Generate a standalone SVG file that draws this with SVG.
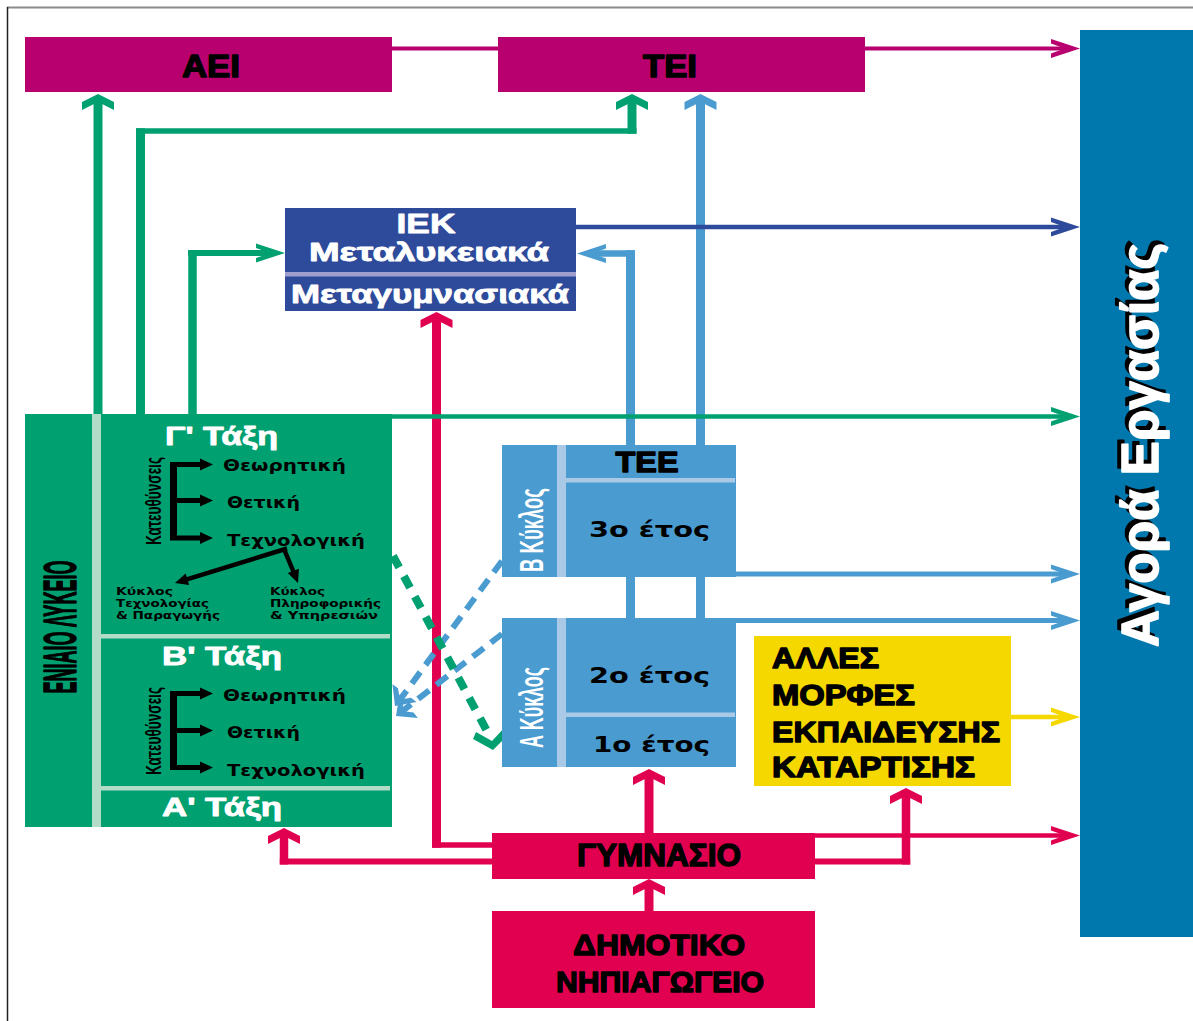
<svg xmlns="http://www.w3.org/2000/svg" xmlns:xlink="http://www.w3.org/1999/xlink" width="1193" height="1021" viewBox="0 0 1193 1021">
<style>
.hv{font-family:"Liberation Sans",Arial,sans-serif;font-weight:bold;}
.cd{font-family:"Liberation Sans Narrow","Liberation Sans",Arial,sans-serif;font-weight:bold;}
.wd{font-family:"DejaVu Sans",Verdana,sans-serif;font-weight:bold;}
.blk{fill:#000;stroke:#000;stroke-width:1.4;stroke-linejoin:round;}
.wht{fill:#fff;}
.whs{fill:#fff;stroke:#fff;stroke-width:0.8;stroke-linejoin:round;}
.mag{stroke:#B8006E;fill:none;}
.dbl{stroke:#2E4A9A;fill:none;}
.grn{stroke:#00A070;fill:none;}
.lbl{stroke:#4A9BD0;fill:none;}
.yel{stroke:#F5D800;fill:none;}
.pnk{stroke:#E0004F;fill:none;}
</style>
<defs>
<path id="hu" d="M0,0 L16,8 L16,16 L0,8 L-16,16 L-16,8 Z"/>
<path id="hr" d="M0,0 L-29,-9.5 L-29,-5 L-15,0 L-29,5 L-29,9.5 Z"/>
<path id="hl" d="M0,0 L29,-9.5 L29,-5 L15,0 L29,5 L29,9.5 Z"/>
<path id="hc" d="M0,0 L-16,-15 L-16,-8 L-8,0 L-16,8 L-16,15 Z"/>
<path id="ht" d="M0,0 L-13,-6 L-13,6 Z"/>
</defs>
<rect x="0" y="0" width="1193" height="1021" fill="#fff"/>
<line x1="7" y1="7.5" x2="1193" y2="7.5" stroke="#8a8a8a" stroke-width="2"/>
<line x1="7.5" y1="7" x2="7.5" y2="1021" stroke="#222" stroke-width="1.5"/>

<g id="connectors">
  <!-- magenta -->
  <line class="mag" x1="392" y1="48.5" x2="498" y2="48.5" stroke-width="4"/>
  <line class="mag" x1="865" y1="48.5" x2="1066" y2="48.5" stroke-width="4"/>
  <use xlink:href="#hr" x="1080" y="48.5" fill="#B8006E"/>
  <!-- green solid -->
  <line class="grn" x1="98" y1="414" x2="98" y2="101" stroke-width="9"/>
  <use xlink:href="#hu" x="98" y="94" fill="#00A070"/>
  <line class="grn" x1="140.5" y1="414" x2="140.5" y2="128.2" stroke-width="9"/>
  <line class="grn" x1="136" y1="131" x2="636.5" y2="131" stroke-width="5.5"/>
  <line class="grn" x1="632" y1="133.7" x2="632" y2="101" stroke-width="9"/>
  <use xlink:href="#hu" x="632" y="94" fill="#00A070"/>
  <line class="grn" x1="192.5" y1="414" x2="192.5" y2="250" stroke-width="8.5"/>
  <line class="grn" x1="188.2" y1="253" x2="272" y2="253" stroke-width="6"/>
  <use xlink:href="#hr" x="285" y="253" fill="#00A070"/>
  <!-- light blue -->
  <line class="lbl" x1="700.5" y1="445" x2="700.5" y2="101" stroke-width="9"/>
  <use xlink:href="#hu" x="700.5" y="94" fill="#4A9BD0"/>
  <line class="lbl" x1="630.5" y1="445" x2="630.5" y2="250.2" stroke-width="9"/>
  <line class="lbl" x1="635" y1="253.5" x2="591" y2="253.5" stroke-width="6.5"/>
  <use xlink:href="#hl" x="577" y="253.5" fill="#4A9BD0"/>
  <line class="lbl" x1="630.5" y1="577" x2="630.5" y2="618" stroke-width="9"/>
  <line class="lbl" x1="700.5" y1="577" x2="700.5" y2="618" stroke-width="9"/>
  <line class="lbl" x1="736" y1="574" x2="1066" y2="574" stroke-width="5"/>
  <use xlink:href="#hr" x="1080" y="574" fill="#4A9BD0"/>
  <line class="lbl" x1="736" y1="620.5" x2="1066" y2="620.5" stroke-width="5"/>
  <use xlink:href="#hr" x="1080" y="620.5" fill="#4A9BD0"/>
  <!-- dark blue -->
  <line class="dbl" x1="576" y1="227" x2="1066" y2="227" stroke-width="4.5"/>
  <use xlink:href="#hr" x="1080" y="227" fill="#2E4A9A"/>
  <!-- pink -->
  <line class="pnk" x1="649" y1="911" x2="649" y2="886" stroke-width="9"/>
  <use xlink:href="#hu" x="649" y="879" fill="#E0004F"/>
  <line class="pnk" x1="649" y1="833" x2="649" y2="776" stroke-width="9"/>
  <use xlink:href="#hu" x="649" y="769" fill="#E0004F"/>
  <line class="pnk" x1="436.5" y1="847.7" x2="436.5" y2="319" stroke-width="9"/>
  <use xlink:href="#hu" x="436.5" y="312" fill="#E0004F"/>
  <line class="pnk" x1="492" y1="845" x2="432" y2="845" stroke-width="5.5"/>
  <line class="pnk" x1="284" y1="864.5" x2="284" y2="835" stroke-width="8.5"/>
  <use xlink:href="#hu" x="284" y="828" fill="#E0004F"/>
  <line class="pnk" x1="492" y1="861.5" x2="279.8" y2="861.5" stroke-width="6"/>
  <line class="pnk" x1="906" y1="864.5" x2="906" y2="795" stroke-width="8.5"/>
  <use xlink:href="#hu" x="906" y="788" fill="#E0004F"/>
  <line class="pnk" x1="815" y1="861.5" x2="910.2" y2="861.5" stroke-width="6"/>
  <line class="pnk" x1="815" y1="835.5" x2="1066" y2="835.5" stroke-width="4.5"/>
  <use xlink:href="#hr" x="1080" y="835.5" fill="#E0004F"/>
  <!-- yellow -->
  <line class="yel" x1="1011" y1="717" x2="1066" y2="717" stroke-width="4.5"/>
  <use xlink:href="#hr" x="1080" y="717" fill="#F5D800"/>
  <!-- green horizontal to market -->
  <line class="grn" x1="392" y1="416.5" x2="1066" y2="416.5" stroke-width="4.5"/>
  <use xlink:href="#hr" x="1080" y="416.5" fill="#00A070"/>
  <!-- dashed -->
  <line class="lbl" x1="502" y1="561" x2="400" y2="699.6" stroke-width="6" stroke-dasharray="14 9"/>
  <use xlink:href="#hc" transform="translate(395,706) rotate(126.4)" fill="#4A9BD0"/>
  <line class="lbl" x1="502" y1="634" x2="402.3" y2="711.1" stroke-width="6" stroke-dasharray="14 9"/>
  <use xlink:href="#hc" transform="translate(396,716) rotate(142.3)" fill="#4A9BD0"/>
  <line class="grn" x1="393" y1="556" x2="487" y2="731" stroke-width="8" stroke-dasharray="13 10"/>
  <polygon points="493,750 473,739 476,732 492,741 506,726 511,732" fill="#00A070"/>
</g>

<g id="aei">
  <rect x="25" y="37" width="367" height="55" fill="#B8006E"/>
  <text class="hv blk" x="211" y="77" font-size="31" text-anchor="middle" textLength="58" lengthAdjust="spacingAndGlyphs">ΑΕΙ</text>
</g>

<g id="tei">
  <rect x="498" y="37" width="367" height="55" fill="#B8006E"/>
  <text class="hv blk" x="670" y="77" font-size="31" text-anchor="middle" textLength="54" lengthAdjust="spacingAndGlyphs">ΤΕΙ</text>
</g>

<g id="iek">
  <rect x="285" y="208" width="291" height="103" fill="#2E4A9A"/>
  <rect x="285" y="272" width="291" height="4.5" fill="#9E9ECF"/>
  <text class="hv whs" x="426" y="233" font-size="27" text-anchor="middle" textLength="59" lengthAdjust="spacingAndGlyphs">ΙΕΚ</text>
  <text class="hv whs" x="429" y="261" font-size="25" text-anchor="middle" textLength="240" lengthAdjust="spacingAndGlyphs">Μεταλυκειακά</text>
  <text class="hv whs" x="430" y="303" font-size="25" text-anchor="middle" textLength="278" lengthAdjust="spacingAndGlyphs">Μεταγυμνασιακά</text>
</g>

<g id="lykeio">
  <rect x="25" y="414" width="367" height="413" fill="#00A070"/>
  <rect x="92" y="414" width="9" height="413" fill="#B3DCC8"/>
  <rect x="101" y="634" width="289" height="4.5" fill="#B3DCC8"/>
  <rect x="101" y="786" width="289" height="4.5" fill="#B3DCC8"/>
  <text class="cd blk" transform="translate(76,627) rotate(-90)" font-size="46" text-anchor="middle" textLength="133" lengthAdjust="spacingAndGlyphs">ΕΝΙΑΙΟ ΛΥΚΕΙΟ</text>
  <text class="cd whs" x="165" y="445" font-size="25" textLength="113" lengthAdjust="spacingAndGlyphs">Γ' Τάξη</text>
  <text class="cd whs" x="162" y="665" font-size="25" textLength="120" lengthAdjust="spacingAndGlyphs">Β' Τάξη</text>
  <text class="cd whs" x="162" y="816" font-size="25" textLength="120" lengthAdjust="spacingAndGlyphs">Α' Τάξη</text>
  <!-- upper bracket -->
  <text class="cd" fill="#000" font-weight="normal" transform="translate(161,501) rotate(-90)" font-size="22" text-anchor="middle" textLength="88" lengthAdjust="spacingAndGlyphs">Κατευθύνσεις</text>
  <g fill="#000">
    <rect x="170" y="462" width="7" height="78.5"/>
    <rect x="177" y="462" width="24" height="5"/>
    <rect x="177" y="498" width="24" height="5"/>
    <rect x="177" y="535.5" width="24" height="5"/>
    <use xlink:href="#ht" x="213" y="464.5"/>
    <use xlink:href="#ht" x="213" y="500.5"/>
    <use xlink:href="#ht" x="213" y="538"/>
  </g>
  <text class="wd" fill="#000" x="223" y="471" font-size="15" textLength="123" lengthAdjust="spacingAndGlyphs">Θεωρητική</text>
  <text class="wd" fill="#000" x="227" y="508" font-size="15" textLength="73" lengthAdjust="spacingAndGlyphs">Θετική</text>
  <text class="wd" fill="#000" x="227" y="546" font-size="15" textLength="138" lengthAdjust="spacingAndGlyphs">Τεχνολογική</text>
  <g stroke="#000" stroke-width="4.5" fill="none">
    <line x1="287" y1="548.5" x2="186" y2="579.6"/>
    <line x1="284" y1="549" x2="294" y2="573"/>
  </g>
  <use xlink:href="#ht" transform="translate(175,583) rotate(162.8)" fill="#000"/>
  <use xlink:href="#ht" transform="translate(298,583) rotate(69)" fill="#000"/>
  <g class="wd" fill="#000" font-size="11">
    <text x="116" y="595" textLength="57" lengthAdjust="spacingAndGlyphs">Κύκλος</text>
    <text x="116" y="607" textLength="93" lengthAdjust="spacingAndGlyphs">Τεχνολογίας</text>
    <text x="116" y="619" textLength="104" lengthAdjust="spacingAndGlyphs">&amp; Παραγωγής</text>
    <text x="270" y="595" textLength="55" lengthAdjust="spacingAndGlyphs">Κύκλος</text>
    <text x="270" y="607" textLength="111" lengthAdjust="spacingAndGlyphs">Πληροφορικής</text>
    <text x="270" y="619" textLength="108" lengthAdjust="spacingAndGlyphs">&amp; Υπηρεσιών</text>
  </g>
  <!-- lower bracket -->
  <text class="cd" fill="#000" font-weight="normal" transform="translate(161,731) rotate(-90)" font-size="22" text-anchor="middle" textLength="88" lengthAdjust="spacingAndGlyphs">Κατευθύνσεις</text>
  <g fill="#000">
    <rect x="170" y="691" width="7" height="79"/>
    <rect x="177" y="691" width="24" height="5"/>
    <rect x="177" y="728" width="24" height="5"/>
    <rect x="177" y="765" width="24" height="5"/>
    <use xlink:href="#ht" x="213" y="693.5"/>
    <use xlink:href="#ht" x="213" y="730.5"/>
    <use xlink:href="#ht" x="213" y="767.5"/>
  </g>
  <text class="wd" fill="#000" x="223" y="701" font-size="15" textLength="123" lengthAdjust="spacingAndGlyphs">Θεωρητική</text>
  <text class="wd" fill="#000" x="227" y="738" font-size="15" textLength="73" lengthAdjust="spacingAndGlyphs">Θετική</text>
  <text class="wd" fill="#000" x="227" y="776" font-size="15" textLength="138" lengthAdjust="spacingAndGlyphs">Τεχνολογική</text>
</g>

<g id="tee-b">
  <rect x="502" y="445" width="234" height="132" fill="#4A9BD0"/>
  <rect x="557" y="445" width="9" height="132" fill="#A9C9E6"/>
  <rect x="566" y="478" width="169" height="4.5" fill="#A9C9E6"/>
  <text class="hv blk" x="647" y="472" font-size="30" text-anchor="middle" textLength="63" lengthAdjust="spacingAndGlyphs">ΤΕΕ</text>
  <text class="wd" fill="#000" x="649.5" y="537" font-size="22" text-anchor="middle" textLength="121" lengthAdjust="spacingAndGlyphs">3ο έτος</text>
  <text class="cd wht" transform="translate(543,530) rotate(-90)" font-size="34" font-weight="normal" text-anchor="middle" textLength="84" lengthAdjust="spacingAndGlyphs">Β Κύκλος</text>
</g>

<g id="tee-a">
  <rect x="502" y="618" width="234" height="149" fill="#4A9BD0"/>
  <rect x="557" y="618" width="9" height="149" fill="#A9C9E6"/>
  <rect x="566" y="712.5" width="169" height="4.5" fill="#A9C9E6"/>
  <text class="wd" fill="#000" x="649.5" y="683" font-size="22" text-anchor="middle" textLength="121" lengthAdjust="spacingAndGlyphs">2ο έτος</text>
  <text class="wd" fill="#000" x="651.5" y="752" font-size="22" text-anchor="middle" textLength="117" lengthAdjust="spacingAndGlyphs">1ο έτος</text>
  <text class="cd wht" transform="translate(543,707.5) rotate(-90)" font-size="34" font-weight="normal" text-anchor="middle" textLength="81" lengthAdjust="spacingAndGlyphs">Α Κύκλος</text>
</g>

<g id="alles">
  <rect x="754" y="636" width="257" height="150" fill="#F5D800"/>
  <g class="cd blk" font-size="30">
    <text x="772" y="668" textLength="107" lengthAdjust="spacingAndGlyphs">ΑΛΛΕΣ</text>
    <text x="772" y="705" textLength="143" lengthAdjust="spacingAndGlyphs">ΜΟΡΦΕΣ</text>
    <text x="772" y="742" textLength="228" lengthAdjust="spacingAndGlyphs">ΕΚΠΑΙΔΕΥΣΗΣ</text>
    <text x="772" y="777" textLength="203" lengthAdjust="spacingAndGlyphs">ΚΑΤΑΡΤΙΣΗΣ</text>
  </g>
</g>

<g id="gymnasio">
  <rect x="492" y="833" width="323" height="46" fill="#E0004F"/>
  <text class="cd blk" x="659" y="866" font-size="31" text-anchor="middle" textLength="164" lengthAdjust="spacingAndGlyphs">ΓΥΜΝΑΣΙΟ</text>
</g>

<g id="dimotiko">
  <rect x="492" y="911" width="323" height="97" fill="#E0004F"/>
  <text class="cd blk" x="659" y="955" font-size="30" text-anchor="middle" textLength="172" lengthAdjust="spacingAndGlyphs">ΔΗΜΟΤΙΚΟ</text>
  <text class="cd blk" x="660" y="992" font-size="30" text-anchor="middle" textLength="208" lengthAdjust="spacingAndGlyphs">ΝΗΠΙΑΓΩΓΕΙΟ</text>
</g>

<g id="agora">
  <rect x="1080" y="30" width="113" height="907" fill="#0078AE"/>
  <text class="hv" fill="#000" stroke="#000" stroke-width="1.6" stroke-linejoin="round" transform="translate(1154,441) rotate(-90)" font-size="51" text-anchor="middle" textLength="404" lengthAdjust="spacingAndGlyphs">Αγορά Εργασίας</text>
  <text class="hv" fill="#fff" stroke="#fff" stroke-width="1.6" stroke-linejoin="round" transform="translate(1158,445) rotate(-90)" font-size="51" text-anchor="middle" textLength="404" lengthAdjust="spacingAndGlyphs">Αγορά Εργασίας</text>
</g>
</svg>
